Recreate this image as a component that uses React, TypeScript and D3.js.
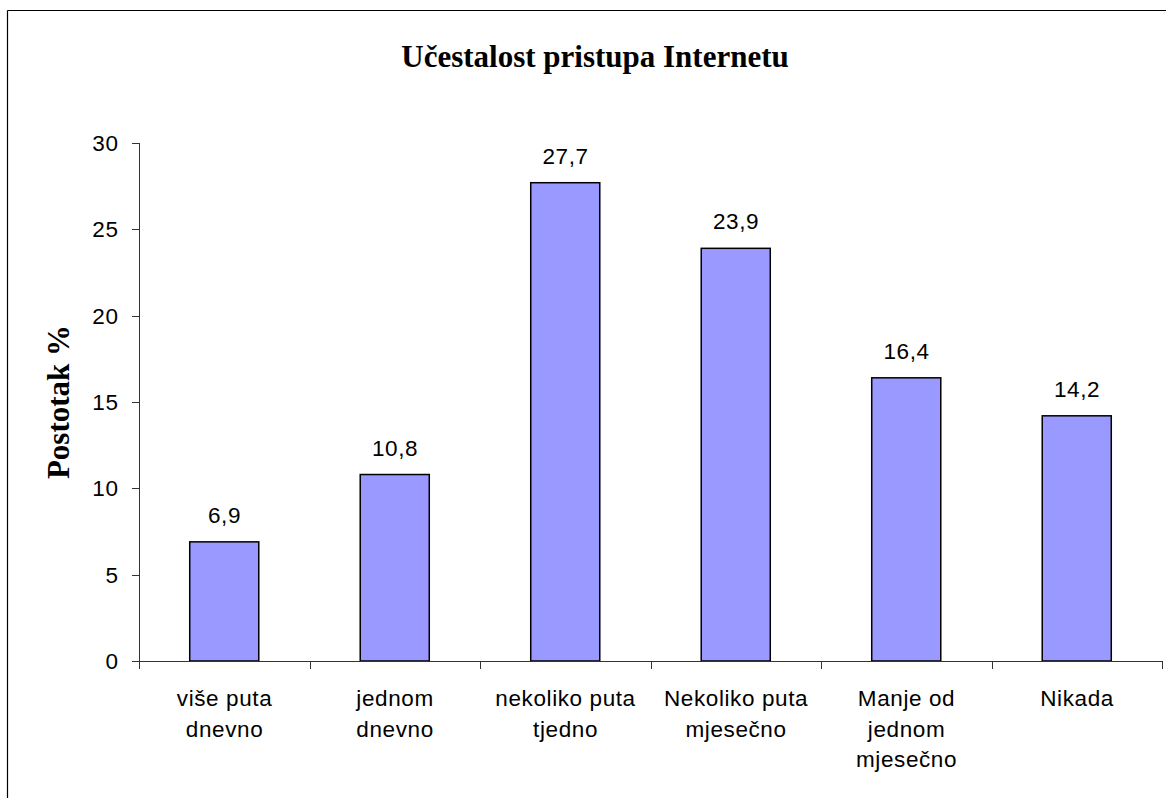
import React from "react";
import * as d3 from "d3";

const categories: string[][] = [
  ["više puta", "dnevno"],
  ["jednom", "dnevno"],
  ["nekoliko puta", "tjedno"],
  ["Nekoliko puta", "mjesečno"],
  ["Manje od", "jednom", "mjesečno"],
  ["Nikada"],
];
const values: number[] = [6.9, 10.8, 27.7, 23.9, 16.4, 14.2];
const yTicks: number[] = [0, 5, 10, 15, 20, 25, 30];
const title = "Učestalost pristupa Internetu";
const yTitle = "Postotak %";

const W = 1166;
const H = 798;
const plot = { left: 139, right: 1162, top: 143, bottom: 661 };

export default function App() {
  const keys = categories.map((c) => c.join(" "));
  const x = d3
    .scaleBand<string>()
    .domain(keys)
    .range([plot.left, plot.right])
    .paddingInner(0.595)
    .paddingOuter(0.2975);
  const y = d3.scaleLinear().domain([0, 30]).range([plot.bottom, plot.top]);
  const step = (plot.right - plot.left) / categories.length;
  const boundaries = d3.range(categories.length + 1).map((i) => plot.left + i * step);
  const arial = "'Liberation Sans', Arial, sans-serif";
  const times = "'Liberation Serif', 'Times New Roman', serif";
  const fs = 22.5;
  const ls = 0.6;

  return (
    <svg
      width={W}
      height={H}
      style={{ position: "absolute", left: 0, top: 0, background: "#fff" }}
    >
      {/* chart frame */}
      <line x1={7.5} y1={10.5} x2={W} y2={10.5} stroke="#000" strokeWidth={1.2} />
      <line x1={7.5} y1={10.5} x2={7.5} y2={H} stroke="#000" strokeWidth={1.2} />

      <text
        x={595}
        y={67}
        textAnchor="middle"
        fontFamily={times}
        fontWeight="bold"
        fontSize={31}
      >
        {title}
      </text>

      <text
        transform={`translate(69,${(plot.top + plot.bottom) / 2}) rotate(-90)`}
        textAnchor="middle"
        fontFamily={times}
        fontWeight="bold"
        fontSize={31}
      >
        {yTitle}
      </text>

      {/* y axis */}
      <line x1={plot.left + 0.5} y1={plot.top} x2={plot.left + 0.5} y2={plot.bottom} stroke="#333" />
      {yTicks.map((t) => (
        <g key={t}>
          <line x1={plot.left - 7} x2={plot.left} y1={Math.round(y(t)) + 0.5} y2={Math.round(y(t)) + 0.5} stroke="#333" />
          <text
            x={118.5}
            y={y(t)}
            dy="0.35em"
            textAnchor="end"
            fontFamily={arial}
            fontSize={fs}
            letterSpacing={ls}
          >
            {t}
          </text>
        </g>
      ))}

      {/* bars */}
      {values.map((v, i) => (
        <g key={i}>
          <rect
            x={x(keys[i])!}
            y={y(v)}
            width={x.bandwidth()}
            height={y(0) - y(v)}
            fill="#9999FF"
            stroke="#000"
            strokeWidth={1.5}
          />
          <text
            x={x(keys[i])! + x.bandwidth() / 2 + ls / 2}
            y={y(v) - 19}
            textAnchor="middle"
            fontFamily={arial}
            fontSize={fs}
            letterSpacing={ls}
          >
            {String(v.toFixed(1)).replace(".", ",")}
          </text>
        </g>
      ))}

      {/* x axis */}
      <line x1={plot.left} x2={plot.right} y1={plot.bottom + 0.5} y2={plot.bottom + 0.5} stroke="#333" />
      {boundaries.map((b, i) => (
        <line key={i} x1={Math.round(b) + 0.5} x2={Math.round(b) + 0.5} y1={plot.bottom} y2={plot.bottom + 8} stroke="#333" />
      ))}
      {categories.map((lines, i) => (
        <text
          key={i}
          y={706}
          textAnchor="middle"
          fontFamily={arial}
          fontSize={fs}
          letterSpacing={ls}
        >
          {lines.map((l, j) => (
            <tspan key={j} x={x(keys[i])! + x.bandwidth() / 2 + ls / 2} dy={j === 0 ? 0 : 30.5}>
              {l}
            </tspan>
          ))}
        </text>
      ))}
    </svg>
  );
}
